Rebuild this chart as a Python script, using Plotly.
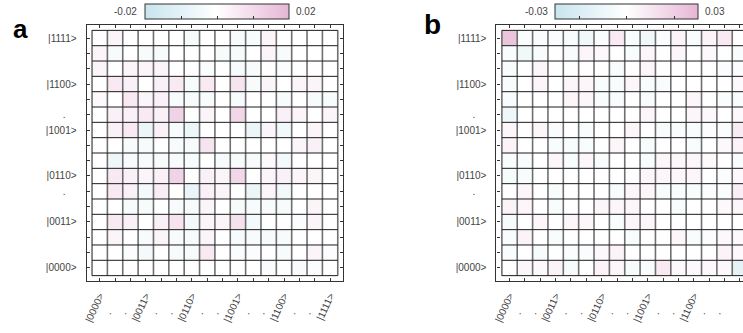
import plotly.graph_objects as go

# Basis-state labels (every third state is named, the rest are dotted)
x_ticktext = ["|0000>", ".", ".", "|0011>", ".", ".", "|0110>", ".", ".",
              "|1001>", ".", ".", "|1100>", ".", ".", "|1111>"]
y_ticktext = ["|0000>", "", "", "|0011>", "", ".", "|0110>", "", "",
              "|1001>", ".", "", "|1100>", "", "", "|1111>"]

# Matrix elements in units of 1e-3, listed from the top row (|1111>) down to |0000>
panel_a = [
    [0, 3, 0, 0, 0, 0, -3, 0, 0, -3, -3, 3, 0, 0, 0, 0],
    [3, -3, 0, -3, -3, 0, 0, 0, -3, -3, 0, 3, -3, 0, 0, 0],
    [3, 0, 3, 3, 3, 0, 0, -2, 0, -3, -3, 0, -2, 0, 0, 0],
    [0, 6, 4, 0, 4, 6, -3, 6, 0, 7, -3, 3, 0, 3, 3, 0],
    [2, 0, 6, 3, 4, -3, -3, -3, 0, -3, 0, 0, -3, 0, -3, -3],
    [0, 4, 4, 6, 4, 12, 0, 3, 0, 11, 0, 0, 4, 3, 0, 3],
    [0, 4, 6, -7, 4, -3, -7, 0, 0, 0, -7, 3, -5, 0, 3, 0],
    [0, 0, -3, -3, 0, -3, -3, 7, 0, 0, 0, 0, 0, 3, 4, 0],
    [0, -6, -3, -3, -3, -3, -3, 0, -3, -3, -3, 2, -4, 0, 0, 0],
    [0, 6, 4, 3, 4, 12, 0, 4, 3, 11, 0, 3, 4, 3, 3, 0],
    [0, 6, 4, -4, 5, 0, -8, 4, 3, 0, -7, 3, -5, 0, 0, 0],
    [0, 0, -3, -3, 0, -3, -3, 3, 0, -3, -3, -3, -3, 0, 3, 0],
    [0, 6, 4, 0, 4, 7, -4, 3, 3, 8, -4, 0, 0, -2, 3, 0],
    [0, 3, 0, -3, 3, -3, -3, 3, 0, -3, -3, -3, -3, 0, 0, 0],
    [0, 0, -2, -4, 0, -3, -3, 6, 0, -2, -2, 0, -3, 0, 3, -2],
    [0, 0, 0, 0, 0, 0, 0, 0, 0, 0, 0, -2, 0, -3, -2, 0],
]

panel_b = [
    [24, -3, -3, -3, -4, -8, -3, 9, -4, -8, -3, 5, -4, 5, 9, 0],
    [-4, -8, -4, 0, -4, 4, 3, 0, -4, 4, 0, 4, 0, 3, 0, -4],
    [-4, 0, 4, 0, 0, 0, 0, -4, 0, 4, 0, 0, 0, 0, -3, -3],
    [-4, 0, 4, 0, 4, 4, -4, -4, 4, -4, -4, 0, 0, 0, 0, 3],
    [-4, 0, 0, 0, 4, 4, -4, -4, 0, -4, 0, 0, 4, 0, -3, -4],
    [-9, 0, 0, 0, 0, 0, 0, 0, 0, 4, 0, 0, 4, 3, 0, 3],
    [4, 0, 4, -4, 0, -4, 0, 0, 4, 0, -4, -4, -4, -3, -3, 8],
    [5, 0, 0, -4, -4, -4, 0, 4, 0, -4, 0, 0, -4, 0, 3, 5],
    [-4, -4, 0, 4, -4, 4, -4, 0, 0, -4, 4, 4, 4, 3, 0, -4],
    [-5, -4, 0, 0, 0, 0, 0, 0, 0, 4, 4, 4, 4, 0, -3, 3],
    [0, 4, 0, -4, 0, 0, 0, -4, 4, 4, -4, -4, -4, -3, -3, 7],
    [5, 4, 0, -4, 0, 0, 4, 4, 4, 0, 0, -4, 0, 0, 3, 4],
    [-5, 0, 4, 0, 4, 4, 0, -4, 4, 4, 0, 0, 0, 0, 0, 0],
    [-4, 5, 0, -4, 0, 0, 0, 0, -4, 0, 0, 4, -4, -3, 3, 3],
    [-4, 0, -5, 0, -3, -3, 3, 5, 0, 0, 0, 0, 0, 0, 5, 3],
    [0, 4, 3, 5, -5, 0, 5, 4, -5, -4, 9, 3, 3, 3, 3, -14],
]

zlim_a = 0.02
zlim_b = 0.03
cbar_ticks_a = [-0.01, 0.0, 0.01]
cbar_ticks_b = [-0.02, 0.0, 0.02]

W, H = 743, 333
FONT = "Liberation Sans, Arial, sans-serif"
LABEL_COLOR = "#444444"
colorscale = [[0.0, "#c8e5ee"], [0.5, "#ffffff"], [1.0, "#e6b6d5"]]

n = len(x_ticktext)
idx = list(range(n))


def to_z(rows):
    # bottom row first so that |0000> sits at the bottom
    return [[v * 1e-3 for v in r] for r in reversed(rows)]


def centre_dots(labels, pad):
    # a lone dot is pushed away from the axis so it sits mid-label
    return [t + "&nbsp;" * pad if t == "." else t for t in labels]


fig = go.Figure()

fig.add_trace(go.Heatmap(z=to_z(panel_a), x=idx, y=idx, coloraxis="coloraxis",
                         xaxis="x", yaxis="y", hoverinfo="skip"))
fig.add_trace(go.Heatmap(z=to_z(panel_b), x=idx, y=idx, coloraxis="coloraxis2",
                         xaxis="x2", yaxis="y2", hoverinfo="skip"))

# cell borders: grey verticals, dark horizontals
edges = [i - 0.5 for i in range(n + 1)]
vx, vy, hx, hy = [], [], [], []
for e in edges:
    vx += [e, e, None]
    vy += [edges[0], edges[-1], None]
    hx += [edges[0], edges[-1], None]
    hy += [e, e, None]
for xa, ya in (("x", "y"), ("x2", "y2")):
    fig.add_trace(go.Scatter(x=vx, y=vy, mode="lines", xaxis=xa, yaxis=ya,
                             line=dict(color="#6f6f6f", width=1.6),
                             hoverinfo="skip", showlegend=False))
    fig.add_trace(go.Scatter(x=hx, y=hy, mode="lines", xaxis=xa, yaxis=ya,
                             line=dict(color="#1c1c1c", width=1),
                             hoverinfo="skip", showlegend=False))

pad = 0.85
px_per_cell = 15.42
# panel frames in pixels
a_left = 84.0
a_right = a_left + (n - 1 + 2 * pad) * px_per_cell
b_left = 495.5
b_hi = -pad + (W - b_left) / px_per_cell
frame_top, frame_bottom = 25.0, 281.0

common_x = dict(tickmode="array", tickvals=idx, ticktext=centre_dots(x_ticktext, 7),
                tickangle=-65, ticklabelstandoff=4,
                ticks="inside", ticklen=3, tickwidth=1, tickcolor="#333",
                showline=True, linecolor="#333", linewidth=1.2, mirror="ticks",
                showgrid=False, zeroline=False,
                tickfont=dict(family=FONT, size=10, color=LABEL_COLOR))
common_y = dict(tickmode="array", tickvals=idx, ticktext=centre_dots(y_ticktext, 4),
                ticklabelstandoff=7,
                ticks="inside", ticklen=3, tickwidth=1, tickcolor="#333",
                showline=True, linecolor="#333", linewidth=1.2,
                showgrid=False, zeroline=False, range=[-pad, n - 1 + pad],
                domain=[1 - frame_bottom / H, 1 - frame_top / H],
                tickfont=dict(family=FONT, size=10, color=LABEL_COLOR))

fig.update_layout(
    width=W, height=H, margin=dict(l=0, r=0, t=0, b=0),
    paper_bgcolor="white", plot_bgcolor="white", showlegend=False,
    xaxis=dict(common_x, domain=[a_left / W, a_right / W], range=[-pad, n - 1 + pad],
               anchor="y"),
    yaxis=dict(common_y, anchor="x", mirror="ticks"),
    xaxis2=dict(common_x, domain=[b_left / W, 1.0], range=[-pad, b_hi], anchor="y2"),
    yaxis2=dict(common_y, anchor="x2", mirror=False),
    coloraxis=dict(
        colorscale=colorscale, cmin=-zlim_a, cmax=zlim_a,
        colorbar=dict(orientation="h", thickness=15, len=144, lenmode="pixels",
                      x=215 / W, xanchor="center", y=1 - 4 / H, yanchor="top",
                      xpad=0, ypad=0, outlinewidth=1, outlinecolor="#333",
                      tickmode="array", tickvals=cbar_ticks_a, ticks="inside",
                      ticklen=3, tickcolor="#333", showticklabels=False,
                      ticklabelposition="outside top")),
    coloraxis2=dict(
        colorscale=colorscale, cmin=-zlim_b, cmax=zlim_b,
        colorbar=dict(orientation="h", thickness=15, len=143, lenmode="pixels",
                      x=626.5 / W, xanchor="center", y=1 - 4 / H, yanchor="top",
                      xpad=0, ypad=0, outlinewidth=1, outlinecolor="#333",
                      tickmode="array", tickvals=cbar_ticks_b, ticks="inside",
                      ticklen=3, tickcolor="#333", showticklabels=False,
                      ticklabelposition="outside top")),
)

# colour-bar end labels and panel letters
ann_font = dict(family=FONT, size=10, color=LABEL_COLOR)
for xpos, anchor, text in ((137, "right", f"{-zlim_a:.2f}"), (292, "left", f"{zlim_a:.2f}"),
                           (549, "right", f"{-zlim_b:.2f}"), (703, "left", f"{zlim_b:.2f}")):
    fig.add_annotation(x=xpos / W, y=1 - 11.5 / H, xref="paper", yref="paper",
                       xanchor=anchor, yanchor="middle", text=text, showarrow=False,
                       font=ann_font)
for xpos, ypos, text, size in ((8, 29, "a", 26), (421, 24, "b", 28)):
    fig.add_annotation(x=xpos / W, y=1 - ypos / H, xref="paper", yref="paper",
                       xanchor="left", yanchor="middle", text=f"<b>{text}</b>",
                       showarrow=False, font=dict(family=FONT, size=size, color="black"))

fig.write_html("out.html")
